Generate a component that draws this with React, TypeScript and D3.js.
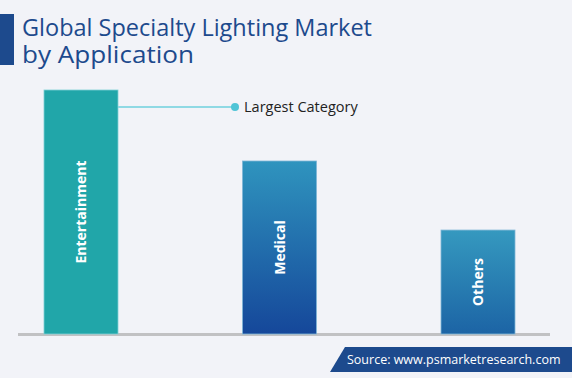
import React from "react";
import * as d3 from "d3";

const categories = ["Entertainment", "Medical", "Others"];
const values = [100, 70.9, 42.6];
const titleLines = ["Global Specialty Lighting Market", "by Application"];
const annotation = "Largest Category";
const source = "Source: www.psmarketresearch.com";

const W = 572;
const H = 378;
const FONT = "'Open Sans', 'DejaVu Sans', sans-serif";

const titleWidths = [350, 172];

const fills = [
  { top: "#21a6a9", bottom: "#21a6a9", stroke: "#7fd0d4" },
  { top: "#2f94be", bottom: "#15479a", stroke: "#7fb6d6" },
  { top: "#3599bf", bottom: "#1c64a5", stroke: "#7fb6d6" },
];

export default function App() {
  const x = d3
    .scaleBand<string>()
    .domain(categories)
    .range([44, 515])
    .paddingInner(0.6272)
    .paddingOuter(0);
  const y = d3.scaleLinear().domain([0, 100]).range([334, 90]);
  const bw = x.bandwidth();
  const e0 = categories[0];
  const lineY = y(values[0]) + 17;

  return (
    <svg width={W} height={H} style={{ position: "absolute", left: 0, top: 0, display: "block" }}>
      <defs>
        {fills.map((f, i) => (
          <linearGradient key={i} id={`g${i}`} x1="0" y1="0" x2="0" y2="1">
            <stop offset="0%" stopColor={f.top} />
            <stop offset="100%" stopColor={f.bottom} />
          </linearGradient>
        ))}
      </defs>
      <rect x={0} y={0} width={W} height={H} fill="#f2f3f8" />
      <rect x={0} y={14} width={14} height={51} fill="#1d4a8d" />
      {titleLines.map((t, i) => (
        <text
          key={i}
          x={22}
          y={36 + i * 27}
          fontFamily={FONT}
          fontSize={24}
          fill="#1d4a8d"
          fontWeight={500}
          textLength={titleWidths[i]}
          lengthAdjust="spacingAndGlyphs"
        >
          {t}
        </text>
      ))}
      <rect x={18} y={333} width={532} height={3} fill="#c1c1c3" />
      {categories.map((c, i) => (
        <g key={c}>
          <rect
            x={x(c)!}
            y={y(values[i])}
            width={bw}
            height={y(0) - y(values[i])}
            fill={`url(#g${i})`}
            stroke={fills[i].stroke}
            strokeWidth={0.8}
          />
          <text
            transform={`translate(${x(c)! + bw / 2 + 5},${(y(values[i]) + y(0)) / 2}) rotate(-90)`}
            textAnchor="middle"
            fontFamily={FONT}
            fontWeight={700}
            fontSize={14}
            fill="#ffffff"
          >
            {c}
          </text>
        </g>
      ))}
      <line x1={x(e0)! + bw} x2={235} y1={lineY} y2={lineY} stroke="#8fd9e4" strokeWidth={2} />
      <circle cx={235} cy={lineY} r={4} fill="#4fc4d6" />
      <text x={244} y={lineY + 5} fontFamily={FONT} fontSize={14.5} fill="#222222">
        {annotation}
      </text>
      <path d={`M345,347 L${W},347 L${W},372 L330,372 Z`} fill="#1d4a8d" />
      <text x={347} y={364} fontFamily={FONT} fontSize={12.5} fill="#ffffff" fontWeight={500}>
        {source}
      </text>
    </svg>
  );
}
